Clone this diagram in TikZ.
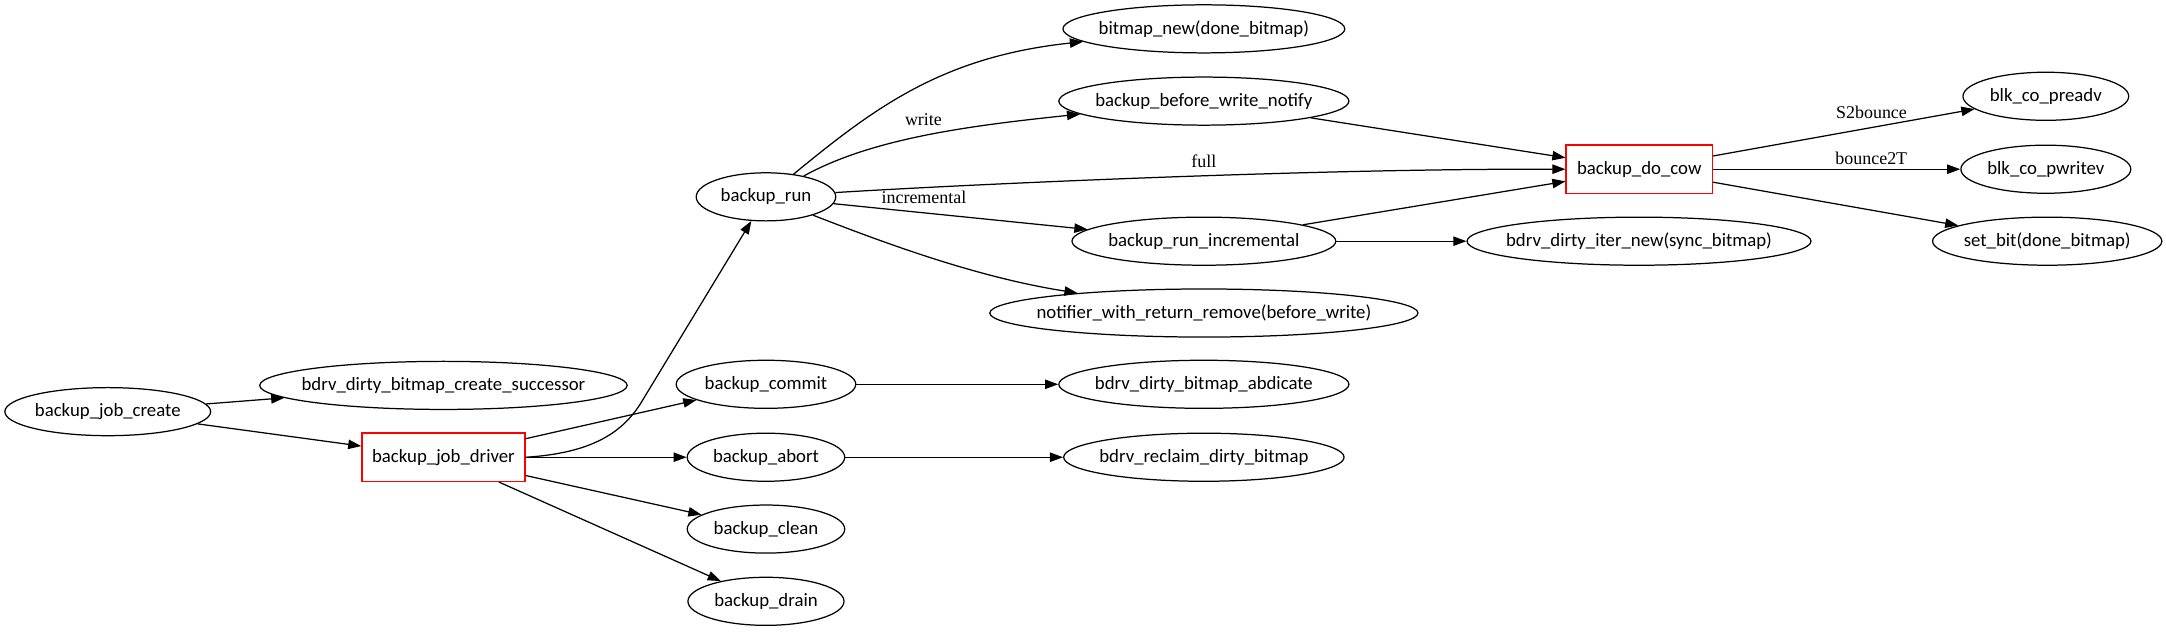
\documentclass[tikz,border=0pt]{standalone}
\usepackage{fontspec}
\setmainfont{Carlito}
\newfontfamily\lblfont{Liberation Serif}
\usetikzlibrary{shapes.geometric,arrows.meta}
\newcommand\ctr[1]{\makebox[0pt]{#1}}
\begin{document}
\begin{tikzpicture}[x=1pt,y=-1pt,
  every node/.style={font=\fontsize{13.6}{15}\selectfont},
  ell/.style={ellipse,draw,line width=0.9pt,inner sep=0pt,minimum height=34.8pt},
  fbox/.style={rectangle,draw=red,line width=0.9pt,inner sep=0pt,minimum height=35pt},
  arr/.style={line width=0.9pt,-{Triangle[length=9.5pt,width=6.8pt]}},
  elbl/.style={font=\lblfont\fontsize{13}{15}\selectfont,inner sep=1pt}]
\useasboundingbox (0,0) rectangle (1568,457);
\node[ell,minimum width=149pt] (jc) at (78,298) {\ctr{backup\_job\_create}};
\node[ell,minimum width=266pt] (succ) at (321,279) {\ctr{bdrv\_dirty\_bitmap\_create\_successor}};
\node[fbox,minimum width=118pt] (jd) at (321,331) {backup\_job\_driver};
\node[ell,minimum width=101pt] (run) at (554.5,142.5) {\ctr{backup\_run}};
\node[ell,minimum width=130pt] (commit) at (554.5,278.2) {\ctr{backup\_commit}};
\node[ell,minimum width=114pt] (abort) at (554.5,331) {\ctr{backup\_abort}};
\node[ell,minimum width=114pt] (clean) at (554.5,383) {\ctr{backup\_clean}};
\node[ell,minimum width=113pt] (drain) at (554.5,435.3) {\ctr{backup\_drain}};
\node[ell,minimum width=204pt] (bn) at (871.5,20.9) {\ctr{bitmap\_new(done\_bitmap)}};
\node[ell,minimum width=210pt] (bw) at (871.5,73.2) {\ctr{backup\_before\_write\_notify}};
\node[ell,minimum width=191pt] (inc) at (871.5,174.6) {\ctr{backup\_run\_incremental}};
\node[ell,minimum width=310pt] (notif) at (871.5,226.6) {\ctr{notifier\_with\_return\_remove(before\_write)}};
\node[ell,minimum width=210pt] (abd) at (871.5,278.2) {\ctr{bdrv\_dirty\_bitmap\_abdicate}};
\node[ell,minimum width=203pt] (recl) at (871.5,331) {\ctr{bdrv\_reclaim\_dirty\_bitmap}};
\node[fbox,minimum width=106pt] (cow) at (1186.7,122.5) {backup\_do\_cow};
\node[ell,minimum width=249pt] (iter) at (1186.5,174.6) {\ctr{bdrv\_dirty\_iter\_new(sync\_bitmap)}};
\node[ell,minimum width=120pt] (pre) at (1481,69.7) {\ctr{blk\_co\_preadv}};
\node[ell,minimum width=123pt] (pw) at (1481,122.5) {\ctr{blk\_co\_pwritev}};
\node[ell,minimum width=166pt] (sb) at (1482,174.6) {\ctr{set\_bit(done\_bitmap)}};
\coordinate (bend) at (465,290);
\draw[arr] (jc) -- (succ);
\draw[arr] (jc) -- (jd);
\draw[arr] (jd.east) .. controls (430,328) and (452,312) .. (bend) -- (run);
\draw[arr] (jd) -- (commit);
\draw[arr] (jd) -- (abort);
\draw[arr] (jd) -- (clean);
\draw[arr] (jd) -- (drain);
\draw[arr] (run) .. controls (633,78) and (682,41) .. (bn);
\draw[arr] (run) .. controls (631.5,100) and (702,91) .. node[elbl,pos=0.49,above=5.5pt]{write} (bw);
\draw[arr] (run) .. controls (700,133.5) and (950,122) .. node[elbl,pos=0.56,above=4.8pt]{full} (cow.west);
\draw[arr] (run) -- node[elbl,pos=0.356,above=5.2pt]{incremental} (inc);
\draw[arr] (run) .. controls (643,177) and (708,200.8) .. (notif);
\draw[arr] (bw) -- (cow);
\draw[arr] (inc) -- (cow);
\draw[arr] (inc) -- (iter);
\draw[arr] (commit) -- (abd);
\draw[arr] (abort) -- (recl);
\draw[arr] (cow) -- node[elbl,pos=0.606,above=4.85pt]{S2bounce} (pre);
\draw[arr] (cow) -- node[elbl,pos=0.64,above=2pt]{bounce2T} (pw);
\draw[arr] (cow) -- (sb);
\end{tikzpicture}
\end{document}
